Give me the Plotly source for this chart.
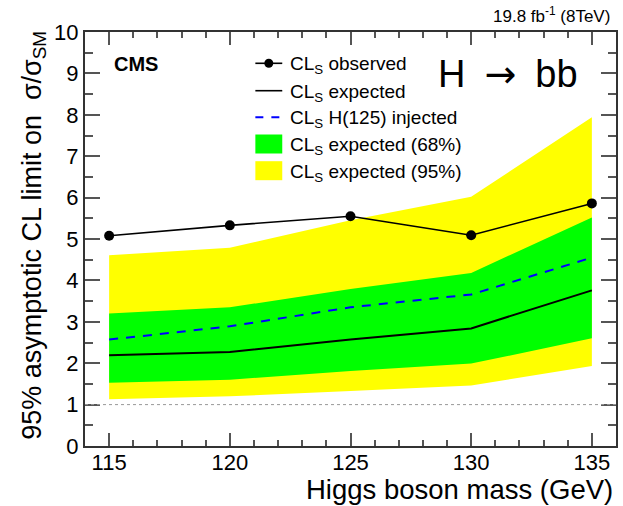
import plotly.graph_objects as go

# ---- data ----
mass = [115, 120, 125, 130, 135]
obs = [5.08, 5.33, 5.55, 5.09, 5.86]
exp_median = [2.19, 2.27, 2.57, 2.84, 3.76]
injected = [2.57, 2.89, 3.35, 3.66, 4.55]
band68_lo = [1.53, 1.60, 1.81, 1.99, 2.60]
band68_hi = [3.20, 3.35, 3.79, 4.18, 5.52]
band95_lo = [1.13, 1.20, 1.33, 1.46, 1.93]
band95_hi = [4.61, 4.79, 5.45, 6.02, 7.94]
x_range = [114, 136]
y_range = [0, 10]
sm_ref = 1.0

W, H = 623, 506
L, R, T, B = 85, 618, 32, 446
PW, PH = R - L, B - T
FONT = "Liberation Sans, Arial, Helvetica, sans-serif"


def px(x):
    return (x - L) / PW


def py(y):
    return (B - y) / PH


YEL = "#FFFF00"
GRN = "#00FF00"
AX = "#333333"
TICK = "#555555"

fig = go.Figure()
fig.add_trace(go.Scatter(x=mass, y=band95_lo, mode="lines", line=dict(width=0, color=YEL),
                         showlegend=False, hoverinfo="skip"))
fig.add_trace(go.Scatter(x=mass, y=band95_hi, mode="lines", line=dict(width=0, color=YEL),
                         fill="tonexty", fillcolor=YEL, showlegend=False))
fig.add_trace(go.Scatter(x=mass, y=band68_lo, mode="lines", line=dict(width=0, color=GRN),
                         showlegend=False, hoverinfo="skip"))
fig.add_trace(go.Scatter(x=mass, y=band68_hi, mode="lines", line=dict(width=0, color=GRN),
                         fill="tonexty", fillcolor=GRN, showlegend=False))
fig.add_trace(go.Scatter(x=mass, y=exp_median, mode="lines", line=dict(width=2, color="black"),
                         showlegend=False))
fig.add_trace(go.Scatter(x=mass, y=injected, mode="lines",
                         line=dict(width=2, color="#0000FF", dash="9px,8px"), showlegend=False))
fig.add_trace(go.Scatter(x=mass, y=obs, mode="lines+markers", line=dict(width=1.6, color="black"),
                         marker=dict(size=10, color="black"), showlegend=False))

shapes = [
    dict(type="line", xref="paper", yref="y", x0=0, x1=1, y0=sm_ref, y1=sm_ref,
         line=dict(color="#999999", width=1, dash="dot"), layer="above"),
]

# manual legend
rows = [63.3, 90.7, 117.3, 144.0, 170.7]
lx0, lx1 = 256, 283
shapes.append(dict(type="line", xref="paper", yref="paper", x0=px(lx0), x1=px(lx1),
                   y0=py(rows[0]), y1=py(rows[0]), line=dict(color="black", width=1.6)))
shapes.append(dict(type="circle", xref="paper", yref="paper", x0=px(269.5 - 4.5), x1=px(269.5 + 4.5),
                   y0=py(rows[0] + 4.5), y1=py(rows[0] - 4.5), fillcolor="black",
                   line=dict(color="black", width=0)))
shapes.append(dict(type="line", xref="paper", yref="paper", x0=px(lx0), x1=px(lx1),
                   y0=py(rows[1]), y1=py(rows[1]), line=dict(color="black", width=1.6)))
shapes.append(dict(type="line", xref="paper", yref="paper", x0=px(lx0), x1=px(lx1),
                   y0=py(rows[2]), y1=py(rows[2]),
                   line=dict(color="#0000FF", width=2, dash="8px,8px")))
shapes.append(dict(type="rect", xref="paper", yref="paper", x0=px(lx0), x1=px(lx1),
                   y0=py(rows[3] + 9.5), y1=py(rows[3] - 9.5), fillcolor=GRN, line=dict(width=0)))
shapes.append(dict(type="rect", xref="paper", yref="paper", x0=px(lx0), x1=px(lx1),
                   y0=py(rows[4] + 9.5), y1=py(rows[4] - 9.5), fillcolor=YEL, line=dict(width=0)))

leg_texts = [
    "CL<sub>S</sub> observed",
    "CL<sub>S</sub> expected",
    "CL<sub>S</sub> H(125) injected",
    "CL<sub>S</sub> expected (68%)",
    "CL<sub>S</sub> expected (95%)",
]

annotations = []
for t, r in zip(leg_texts, rows):
    annotations.append(dict(text=t, xref="paper", yref="paper", x=px(289), y=py(r + 2),
                            xanchor="left", yanchor="middle", showarrow=False,
                            font=dict(family=FONT, size=19, color="black")))

annotations += [
    dict(text="<b>CMS</b>", xref="paper", yref="paper", x=px(112), y=py(63.5),
         xanchor="left", yanchor="middle", showarrow=False,
         font=dict(family=FONT, size=20, color="black")),
    dict(text="H\u2002<span style=\"font-family:DejaVu Sans\">\u2192</span>\u2002bb",
         xref="paper", yref="paper", x=px(582), y=py(74),
         xanchor="right", yanchor="middle", showarrow=False,
         font=dict(family=FONT, size=38, color="black")),
    dict(text="19.8 fb<sup>-1</sup> (8TeV)", xref="paper", yref="paper", x=px(614), y=py(15),
         xanchor="right", yanchor="middle", showarrow=False,
         font=dict(family=FONT, size=17, color="black")),
    dict(text="Higgs boson mass (GeV)", xref="paper", yref="paper", x=px(617), y=py(489),
         xanchor="right", yanchor="middle", showarrow=False,
         font=dict(family=FONT, size=27.5, color="black")),
    dict(text="95% asymptotic CL limit on  \u03c3/\u03c3<sub>SM</sub>", xref="paper", yref="paper",
         x=px(33), y=py(29), xanchor="center", yanchor="top", textangle=-90, showarrow=False,
         font=dict(family=FONT, size=27, color="black")),
]

fig.update_layout(
    width=W, height=H,
    margin=dict(l=L, r=W - R, t=T, b=H - B),
    plot_bgcolor="white",
    font=dict(family=FONT, size=21, color="black"),
    shapes=shapes, annotations=annotations, showlegend=False,
    xaxis=dict(range=x_range, tickmode="linear", tick0=115, dtick=5,
               ticks="inside", ticklen=13, tickwidth=2, tickcolor=TICK,
               showline=True, linecolor=AX, linewidth=2, mirror="allticks",
               showgrid=False, zeroline=False, ticklabelstandoff=-4,
               minor=dict(ticks="inside", ticklen=6, tickwidth=2, tickcolor=TICK, dtick=1),
               tickfont=dict(family=FONT, size=22, color="black")),
    yaxis=dict(range=y_range, tickmode="linear", tick0=0, dtick=1,
               ticks="inside", ticklen=15, tickwidth=2, tickcolor=TICK,
               showline=True, linecolor=AX, linewidth=2, mirror="allticks",
               showgrid=False, zeroline=False,
               minor=dict(ticks="inside", ticklen=8, tickwidth=2, tickcolor=TICK, dtick=0.5),
               tickfont=dict(family=FONT, size=22, color="black")),
)

fig.write_html("out.html")
